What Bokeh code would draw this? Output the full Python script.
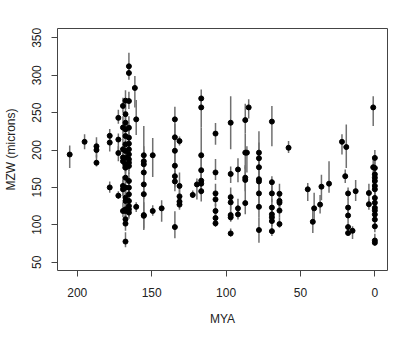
from bokeh.plotting import figure
from bokeh.models import Range1d, FixedTicker, ColumnDataSource
from bokeh.embed import file_html
from bokeh.resources import INLINE

# ---- data ----
mya = [205.1, 195.1,
       187.1, 187.1, 187.1,
       178.2, 178.2, 178.2,
       172.4, 172.4, 172.4, 172.4,
       169.3, 169.3, 169.3, 169.3, 169.3, 169.3, 169.3, 169.3,
       167.6, 167.6, 167.6, 167.6, 167.6, 167.6, 167.6, 167.6, 167.6, 167.6,
       167.6, 167.6, 167.6, 167.6, 167.6, 167.6, 167.6, 167.6, 167.6,
       165.3, 165.3, 165.3, 165.3, 165.3, 165.3, 165.3, 165.3, 165.3,
       165.3, 165.3, 165.3, 165.3, 165.3, 165.3, 165.3, 165.3, 165.3,
       161.3, 160.4, 160.4,
       155.3, 155.3, 155.3, 155.3, 155.3, 155.3, 155.3, 155.3,
       149.3, 149.3, 143.3,
       134.4, 134.4, 134.4, 134.4, 134.4, 134.4, 134.4,
       131.3, 131.3, 131.3, 131.3, 131.3,
       122.4, 119.6,
       116.7, 116.7, 116.7, 116.7, 116.7, 116.7, 116.7,
       107.1, 107.1, 107.1, 107.1, 107.1, 107.1, 107.1,
       96.9, 96.9, 96.9, 96.9, 96.9, 96.9, 96.9,
       92.0, 92.0, 92.0,
       87.1, 87.1, 87.1, 87.1, 87.1,
       86.0, 84.8,
       77.9, 77.9, 77.9, 77.9, 77.9, 77.9, 77.9, 77.9,
       69.2, 69.2, 69.2, 69.2, 69.2, 69.2, 69.2, 69.2,
       64.1, 64.1, 64.1, 64.1, 64.1,
       58.0, 45.1, 41.7, 40.8, 36.8, 35.9, 30.8,
       22.1, 19.2, 19.9,
       18.0, 18.0, 18.0, 18.0, 18.0,
       15.0, 12.9, 4.0, 4.0, 1.1, 1.1,
       0.0, 0.0, 0.0, 0.0, 0.0, 0.0, 0.0, 0.0,
       0.0, 0.0, 0.0, 0.0, 0.0, 0.0, 0.0, 0.0]

mzw = [194, 211,
       205, 200, 183,
       219, 210, 150,
       243, 214, 196, 139,
       259, 230, 201, 190, 185, 152, 147.5, 118.5,
       266, 248, 236.5, 227.6, 218.7, 207.6, 198.7, 189.8, 180.9, 176.4,
       163, 149.7, 136.3, 131.9, 120.7, 118.5, 107.4, 101.6, 77.6,
       312, 303, 265.5, 229.8, 216.5, 208.5, 200.9, 194.2, 187.5,
       183.1, 178.6, 158.6, 149.7, 140.8, 131.9, 125.2, 120.7, 116.3,
       283, 241, 124,
       193, 185, 181, 170, 154, 141, 113, 112,
       193, 118.5, 122,
       241, 217, 199, 179, 165, 158, 97,
       212, 152, 138, 131, 127,
       140, 154,
       269, 257, 193, 173, 159, 155, 145,
       222, 170, 142, 134, 118.5, 109, 102,
       236.5, 168, 137, 130, 113, 110, 88.5,
       174, 122, 114,
       240, 196.5, 163, 160, 129,
       196.5, 257,
       196.5, 189, 177, 161, 158, 142, 124, 93,
       238, 157, 142, 123, 114, 110, 105, 91.5,
       141.5, 132, 129.5, 119, 101,
       203, 147.5, 104, 122, 127, 151, 155,
       211, 204, 165,
       142, 123, 112.5, 97, 89,
       92, 145, 142.5, 127.5, 257, 177,
       189.5, 176, 167.5, 163, 158.6, 152, 147.5, 136,
       129.5, 122.7, 119, 113.8, 107, 98, 79, 76]

err_low = [176, 201,
           195, 190, 178,
           205, 198, 143,
           235, 200, 185, 135,
           250, 215, 185, 180, 175, 140, 138, 110,
           255, 230, 225, 215, 205, 195, 185, 178, 170, 165,
           150, 138, 125, 120, 110, 108, 98, 92, 70,
           300, 294, 255, 215, 205, 195, 190, 182, 175,
           172, 168, 148, 138, 130, 120, 115, 110, 108,
           257, 220, 117,
           172, 165, 160, 150, 135, 125, 93, 95,
           164, 112, 104,
           220, 195, 180, 160, 150, 145, 82,
           206, 135, 125, 122, 120,
           136, 134,
           259, 230, 170, 155, 145, 140, 131,
           207, 160, 130, 125, 110, 102, 97,
           201, 156, 125, 120, 105, 104, 84,
           157, 115, 107,
           222, 175, 145, 140, 114,
           170, 242,
           175, 170, 160, 145, 140, 125, 110, 76,
           205, 145, 130, 110, 105, 100, 98, 85,
           125, 122, 118, 110, 96,
           196, 132, 89, 102, 115, 133, 143,
           194, 176, 156,
           134, 115, 105, 92, 86,
           81, 132, 125, 120, 232, 146,
           165, 160, 150, 150, 145, 140, 135, 125,
           120, 112, 110, 105, 98, 90, 74, 72]

err_high = [206, 221,
            217, 210, 194,
            228, 220, 158,
            254, 222, 205, 145,
            270, 245, 215, 200, 195, 165, 160, 130,
            280, 262, 250, 240, 232, 220, 210, 200, 195, 190,
            175, 160, 148, 145, 135, 130, 120, 112, 90,
            330, 312, 278, 245, 230, 220, 212, 205, 198,
            195, 190, 170, 160, 152, 145, 135, 132, 125,
            299, 267, 130,
            232, 205, 200, 190, 175, 160, 130, 125,
            216, 126, 133,
            258, 235, 215, 195, 180, 172, 118,
            218, 170, 150, 142, 135,
            146, 162,
            281, 270, 230, 190, 175, 170, 160,
            236, 188, 155, 145, 128, 118, 110,
            272, 178, 150, 142, 125, 118, 95,
            189, 135, 124,
            262, 222, 180, 178, 140,
            205, 268,
            225, 210, 200, 178, 175, 160, 140, 110,
            259, 165, 155, 135, 125, 120, 115, 100,
            155, 145, 140, 130, 110,
            212, 156, 123, 143, 140, 167, 185,
            221, 234, 174,
            150, 135, 120, 105, 95,
            98, 160, 155, 135, 272, 190,
            200, 190, 180, 175, 170, 165, 160, 148,
            140, 132, 130, 125, 118, 108, 88, 82]

x_ticks = [0, 50, 100, 150, 200]
y_ticks = [50, 100, 150, 200, 250, 300, 350]
x_title = "MYA"
y_title = "MZW (microns)"

src = ColumnDataSource(dict(x=mya, y=mzw, lo=err_low, hi=err_high))

p = figure(width=415, height=341, output_backend="svg", toolbar_location=None,
           x_range=Range1d(213.3, -8.5), y_range=Range1d(38.9, 362.5),
           min_border_left=56, min_border_right=28, min_border_top=28,
           min_border_bottom=71)

p.segment(x0="x", x1="x", y0="lo", y1="hi", source=src,
          line_color="#707070", line_width=1.5)
p.scatter(x="x", y="y", source=src, size=5, fill_color="black",
          line_color="black")

p.xgrid.visible = False
p.ygrid.visible = False
p.outline_line_color = "#444444"
p.outline_line_width = 1
p.background_fill_color = "white"
p.border_fill_color = "white"

p.xaxis.ticker = FixedTicker(ticks=x_ticks)
p.yaxis.ticker = FixedTicker(ticks=y_ticks)
p.xaxis.axis_label = x_title
p.yaxis.axis_label = y_title

for ax in (p.xaxis, p.yaxis):
    ax.axis_line_color = None
    ax.major_tick_line_color = "#444444"
    ax.major_tick_in = 0
    ax.major_tick_out = 6
    ax.minor_tick_line_color = None
    ax.major_label_text_font = "Liberation Sans"
    ax.major_label_text_font_size = "12px"
    ax.major_label_text_color = "#222222"
    ax.axis_label_text_font = "Liberation Sans"
    ax.axis_label_text_font_size = "12px"
    ax.axis_label_text_font_style = "normal"
    ax.axis_label_text_color = "#222222"

p.yaxis.major_label_orientation = "vertical"
p.xaxis.major_label_standoff = 11
p.yaxis.major_label_standoff = 10
p.xaxis.axis_label_standoff = 12
p.yaxis.axis_label_standoff = 12

open("out.html", "w").write(file_html(p, INLINE))
